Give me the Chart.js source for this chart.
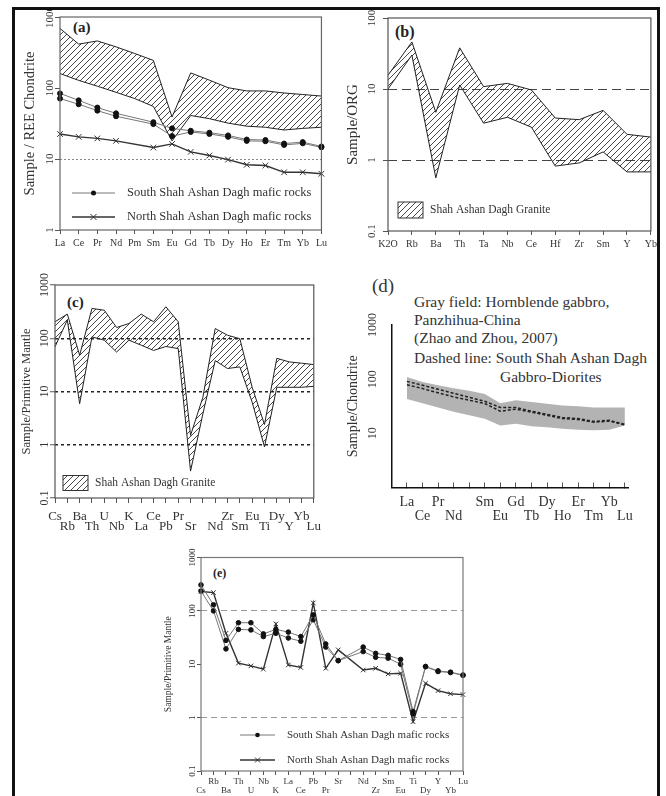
<!DOCTYPE html>
<html>
<head>
<meta charset="utf-8">
<script src="https://cdn.jsdelivr.net/npm/chart.js@4.4.1/dist/chart.umd.min.js"></script>
<style>
body { margin: 0; background: #fff; }
#page { position: relative; width: 666px; height: 796px; overflow: hidden; background: #fff;
        font-family: "Liberation Serif", "Times New Roman", serif; }
#page canvas { position: absolute; }
.border { position: absolute; left: 12px; top: 7px; width: 642px; height: 786px;
          border: 3px solid #111; border-bottom: 1px solid #888; pointer-events: none; z-index: 5; }
.txt { position: absolute; white-space: nowrap; color: #333; line-height: 1; }
.tag { font-weight: bold; color: #222; }
</style>
</head>
<body>
<div id="page">
  <div class="border"></div>
  <div class="txt tag" style="left:73px;top:20px;font-size:15px">(a)</div>
  <div class="txt tag" style="left:395px;top:24px;font-size:16px">(b)</div>
  <div class="txt tag" style="left:67px;top:295px;font-size:15px">(c)</div>
  <div class="txt" style="left:372px;top:276px;font-size:19px">(d)</div>
  <div class="txt tag" style="left:213px;top:567px;font-size:12px">(e)</div>
  <div class="txt" style="left:414px;top:294px;font-size:15.5px">Gray field: Hornblende gabbro,</div>
  <div class="txt" style="left:414px;top:312px;font-size:15.5px">Panzhihua-China</div>
  <div class="txt" style="left:414px;top:330px;font-size:15.5px">(Zhao and Zhou, 2007)</div>
  <div class="txt" style="left:414px;top:350px;font-size:15.5px">Dashed line: South Shah Ashan Dagh</div>
  <div class="txt" style="left:500px;top:369px;font-size:15.5px">Gabbro-Diorites</div>
</div>
<script>
const SERIF = '"Liberation Serif", "Times New Roman", serif';

// (a) REE chondrite
const aLabels = ['La','Ce','Pr','Nd','Pm','Sm','Eu','Gd','Tb','Dy','Ho','Er','Tm','Yb','Lu'];
const aFieldTop = [690, 415, 460, 380, 306, 245, 39, 163, 129, 101, 91, 91, 85, 81, 77];
const aFieldLow = [160, 128, 106, 87, 71, 55, 18, 41, 37, 32, 29, 28, 25.6, 27, 28];
const aSouth1 = [84, 67, 53, 44, null, 33, 27, 25, 23.5, 21.5, 18.8, 18.5, 16.5, 17.3, 15];
const aSouth2 = [71, 59, 48, 40, null, 31, 21, 24, 22.5, 20.5, 18, 17.8, 15.8, 16.6, 14.6];
const aNorth = [22.5, 20.5, 19.5, 18, null, 14.5, 16.3, 12.6, 11.2, 9.8, 8.3, 8.1, 6.5, 6.5, 6.2];
const aTicks = [1, 10, 100, 1000];

// (b) ORG
const bLabels = ['K2O','Rb','Ba','Th','Ta','Nb','Ce','Hf','Zr','Sm','Y','Yb'];
const bTop = [15.6, 46, 4.7, 38, 10.8, 12, 9.7, 3.9, 3.7, 5.0, 2.3, 2.1];
const bLow = [10, 30, 0.56, 11.4, 3.3, 4.0, 2.9, 0.82, 0.91, 1.3, 0.68, 0.68];
const bTicks = [0.1, 1, 10, 100];

// (c) primitive mantle, granite
const cLabels = ['Cs','Rb','Ba','Th','U','Nb','K','La','Ce','Pb','Pr','Sr','','Nd','Zr','Sm','Eu','Ti','Dy','Y','Yb','Lu'];
const cTop = [204, 284, 48, 363, 336, 159, 189, 284, 204, 390, 204, 1.5, 7.8, 152, 114, 98, 12, 2.4, 42, 36, 34, 32];
const cLow = [69, 219, 5.9, 106, 92, 55, 92, 74, 59, 70, 64, 0.32, 3.8, 38, 27, 29, 6.3, 0.91, 12, 12, 12, 12.5];
const cTicks = [0.1, 1, 10, 100, 1000];

// (d) chondrite, gray field + dashed lines
const dLabels = ['La','Ce','Pr','Nd','','Sm','Eu','Gd','Tb','Dy','Ho','Er','Tm','Yb','Lu'];
const dRow = [0,1,0,1,0,0,1,0,1,0,1,0,1,0,1];
const dFieldTop = [110, 89, 77, 68, 61, 53, 36, 41, 38, 35, 32.5, 31.6, 30, 30, 30];
const dFieldLow = [43, 36, 30, 25, 21.5, 18.6, 14, 15, 13.5, 12.9, 12.1, 11.7, 11.4, 11.7, 14];
const dLine1 = [91, 77, 65, 55, null, 39, 30, 30, 25.6, 22.4, 19.6, 18.7, 16.6, 17.4, 14.7];
const dLine2 = [79, 67, 56, 47, null, 35.6, 25.6, 28, 24.6, 21.5, 18.7, 18, 16, 16.8, 14.3];
const dTicks = [10, 100, 1000];

// (e) primitive mantle, mafic rocks
const eLabels = cLabels;
const eSouth1 = [307, 130, 28, 60, 60, 37, 45, 40, 33, 84, 24, 11.7, null, 21, 16, 14.7, 12.3, 1.3, 9.1, 7.5, 7.1, 6.3];
const eSouth2 = [236, 100, 19.4, 45, 44, 33, 38, 31, 27, 68, 21, 11.7, null, 17.3, 13.5, 13, 10, 1.17, 9, 7.3, 7, 6.2];
const eNorth = [230, 220, 38, 10.5, 9.3, 8.1, 57, 9.7, 8.7, 141, 8.4, 18.6, null, 7.8, 8.4, 6.6, 6.8, 0.84, 4.4, 3.2, 2.8, 2.7];
const eTicks = [0.1, 1, 10, 100, 1000];

// hatch pattern for the granite / field areas
const pc = document.createElement('canvas');
pc.width = 6; pc.height = 6;
const pg = pc.getContext('2d');
pg.strokeStyle = '#333'; pg.lineWidth = 0.9;
pg.beginPath();
pg.moveTo(0, 6); pg.lineTo(6, 0);
pg.moveTo(-1, 1); pg.lineTo(1, -1);
pg.moveTo(5, 7); pg.lineTo(7, 5);
pg.stroke();
const hatch = pg.createPattern(pc, 'repeat');

Chart.register({
  id: 'frame',
  afterDraw(chart, args, o) {
    if (!o || !o.color) return;
    const { ctx, chartArea: a } = chart;
    ctx.save();
    ctx.strokeStyle = o.color; ctx.lineWidth = o.width || 1;
    ctx.strokeRect(a.left, a.top, a.right - a.left, a.bottom - a.top);
    ctx.restore();
  }
});

// legend drawn inside the plot, page coords shifted by the canvas offset
function keyPlugin(items, box) {
  return {
    id: 'key',
    afterDraw(chart) {
      const ctx = chart.ctx;
      items.forEach(it => {
        const x = it.x - box[0], y = it.y - box[1];
        ctx.save();
        if (it.kind === 'hatch') {
          ctx.fillStyle = hatch;
          ctx.fillRect(x, y - it.h / 2, it.w, it.h);
          ctx.strokeStyle = '#333'; ctx.lineWidth = 1;
          ctx.strokeRect(x, y - it.h / 2, it.w, it.h);
        } else {
          ctx.strokeStyle = it.color; ctx.lineWidth = it.lw;
          ctx.beginPath(); ctx.moveTo(x, y); ctx.lineTo(x + it.len, y); ctx.stroke();
          const mx = x + it.len / 2;
          if (it.kind === 'dot') {
            ctx.fillStyle = '#111';
            ctx.beginPath(); ctx.arc(mx, y, it.r, 0, Math.PI * 2); ctx.fill();
          } else {
            ctx.lineWidth = 1;
            ctx.beginPath();
            ctx.moveTo(mx - it.r, y - it.r); ctx.lineTo(mx + it.r, y + it.r);
            ctx.moveTo(mx - it.r, y + it.r); ctx.lineTo(mx + it.r, y - it.r);
            ctx.stroke();
          }
        }
        ctx.fillStyle = '#333';
        ctx.font = it.fs + 'px ' + SERIF;
        ctx.textBaseline = 'middle';
        ctx.fillText(it.text, it.tx - box[0], y);
        ctx.restore();
      });
    }
  };
}

function place(box) {
  const c = document.createElement('canvas');
  c.width = box[2] - box[0]; c.height = box[3] - box[1];
  c.style.left = box[0] + 'px'; c.style.top = box[1] + 'px';
  document.getElementById('page').appendChild(c);
  return c;
}

function yAxis(p) {
  return {
    type: 'logarithmic', min: p.min, max: p.max,
    afterBuildTicks: s => { s.ticks = p.ticks.map(v => ({ value: v })); },
    afterFit: s => { s.width = p.w; },
    ticks: { callback: v => String(v), minRotation: 90, maxRotation: 90, crossAlign: 'center',
             padding: p.pad, color: '#333', font: { family: SERIF, size: p.fs } },
    grid: { color: c => (c.tick && p.lines.indexOf(c.tick.value) >= 0) ? p.lineColor : 'rgba(0,0,0,0)',
            lineWidth: p.lineWidth || 1, drawTicks: p.tl > 0, tickLength: p.tl, tickColor: '#555', tickWidth: 1 },
    border: { display: !!p.axis, color: '#111', width: 1.5, dash: p.dash || [] },
    title: { display: true, text: p.title, color: '#333', font: { family: SERIF, size: p.tfs },
             padding: { top: p.tp, bottom: 0 } }
  };
}

function xAxis(p) {
  const ax = {
    type: p.type || 'category', offset: false,
    afterFit: s => { s.height = p.h; },
    ticks: { autoSkip: false, maxRotation: 0, minRotation: 0, padding: p.pad, color: '#333',
             font: { family: SERIF, size: p.fs, lineHeight: p.lh || 1.2 }, callback: p.fmt },
    grid: { drawOnChartArea: false, tickLength: p.tl, tickColor: '#555', color: '#555' },
    border: { display: !!p.axis, color: '#111', width: 1.5 }
  };
  if (p.min !== undefined) { ax.min = p.min; ax.max = p.max; }
  if (p.tickVals) ax.afterBuildTicks = s => { s.ticks = p.tickVals.map(v => ({ value: v })); };
  return ax;
}

function options(box, plot, x, y, frame) {
  return {
    responsive: false, animation: false, devicePixelRatio: 1,
    layout: { padding: { left: 0, top: plot[1] - box[1], right: box[2] - plot[2], bottom: 0 } },
    plugins: { legend: { display: false }, tooltip: { enabled: false }, frame: frame || {} },
    elements: { line: { tension: 0 }, point: { radius: 0 } },
    scales: { x: x, y: y }
  };
}

function south(data, r) {
  return { data: data, borderColor: '#777', borderWidth: 1, pointRadius: r, pointBackgroundColor: '#111',
           pointBorderColor: '#111', spanGaps: true, fill: false };
}
function north(data, r) {
  return { data: data, borderColor: '#333', borderWidth: 1.4, pointStyle: 'crossRot', pointRadius: r,
           pointBorderColor: '#333', pointBorderWidth: 1, spanGaps: true, fill: false };
}
function fieldLow(data) {
  return { data: data, borderColor: '#222', borderWidth: 1, fill: false };
}
function fieldTop(data) {
  return { data: data, borderColor: '#222', borderWidth: 1, fill: '-1', backgroundColor: hatch };
}

// ---- (a)
const boxA = [15, 8, 330, 256], plotA = [60, 17, 321.5, 230];
new Chart(place(boxA), {
  type: 'line',
  data: { labels: aLabels, datasets: [
    south(aSouth1, 2.5), south(aSouth2, 2.5), north(aNorth, 4),
    fieldLow(aFieldLow), fieldTop(aFieldTop)
  ] },
  options: options(boxA, plotA,
    xAxis({ h: boxA[3] - plotA[3], pad: 3, fs: 10, tl: 4, fmt: (v, i) => aLabels[i] }),
    yAxis({ min: 1, max: 1000, ticks: aTicks, w: plotA[0] - boxA[0], pad: -6, fs: 11, tl: 5,
            lines: [10], lineColor: '#888', dash: [2, 2], title: 'Sample / REE Chondrite', tfs: 14.5, tp: 6.3 }),
    { color: '#666', width: 1.2 }),
  plugins: [keyPlugin([
    { kind: 'dot', x: 72, y: 193, len: 43, color: '#777', lw: 1, r: 2.5, tx: 127, fs: 12.5, text: 'South Shah Ashan Dagh mafic rocks' },
    { kind: 'cross', x: 72, y: 217, len: 43, color: '#333', lw: 1.5, r: 3, tx: 127, fs: 12.5, text: 'North Shah Ashan Dagh mafic rocks' }
  ], boxA)]
});

// ---- (b)
const boxB = [340, 8, 660, 256], plotB = [388, 18, 652.5, 231];
new Chart(place(boxB), {
  type: 'line',
  data: { labels: bLabels, datasets: [fieldLow(bLow), fieldTop(bTop)] },
  options: options(boxB, plotB,
    xAxis({ h: boxB[3] - plotB[3], pad: 3, fs: 10, tl: 4, fmt: (v, i) => bLabels[i] }),
    yAxis({ min: 0.1, max: 100, ticks: bTicks, w: plotB[0] - boxB[0], pad: 2.75, fs: 11, tl: 5,
            lines: [1, 10], lineColor: '#444', dash: [9, 5], title: 'Sample/ORG', tfs: 15, tp: 4 }),
    { color: '#555', width: 1.2 }),
  plugins: [keyPlugin([
    { kind: 'hatch', x: 398, y: 210, w: 25, h: 16, tx: 430, fs: 11.5, text: 'Shah Ashan Dagh Granite' }
  ], boxB)]
});

// ---- (c)
const boxC = [15, 270, 330, 540], plotC = [55, 285, 316, 498];
new Chart(place(boxC), {
  type: 'line',
  data: { labels: cLabels, datasets: [fieldLow(cLow), fieldTop(cTop)] },
  options: options(boxC, plotC,
    xAxis({ h: boxC[3] - plotC[3], pad: 9, fs: 13, lh: 0.77, tl: 5,
            fmt: (v, i) => i % 2 === 0 ? [cLabels[i], ''] : ['', cLabels[i]] }),
    yAxis({ min: 0.1, max: 1000, ticks: cTicks, w: plotC[0] - boxC[0], pad: -7, fs: 12, tl: 5,
            lines: [1, 10, 100], lineColor: '#222', lineWidth: 1.5, dash: [3, 3],
            title: 'Sample/Primitive Mantle', tfs: 12.5, tp: 4.5 }),
    { color: '#555', width: 1.2 }),
  plugins: [keyPlugin([
    { kind: 'hatch', x: 63, y: 483, w: 25, h: 15, tx: 95, fs: 11.5, text: 'Shah Ashan Dagh Granite' }
  ], boxC)]
});

// ---- (d)
const boxD = [340, 300, 650, 530], plotD = [392, 325, 628, 487.5];
const xy = arr => arr.map((v, i) => ({ x: i, y: v }));
new Chart(place(boxD), {
  type: 'line',
  data: { datasets: [
    { data: xy(dLine1), borderColor: '#222', borderWidth: 1.5, borderDash: [3, 2], spanGaps: true, fill: false },
    { data: xy(dLine2), borderColor: '#222', borderWidth: 1.5, borderDash: [3, 2], spanGaps: true, fill: false },
    { data: xy(dFieldLow), borderWidth: 0, borderColor: 'rgba(0,0,0,0)', fill: false },
    { data: xy(dFieldTop), borderWidth: 0, borderColor: 'rgba(0,0,0,0)', fill: '-1', backgroundColor: '#b3b3b3' }
  ] },
  options: options(boxD, plotD,
    xAxis({ type: 'linear', min: -0.96, max: 14.2, tickVals: dLabels.map((s, i) => i),
            h: boxD[3] - plotD[3], pad: 13, fs: 14, lh: 1, tl: -5, axis: true,
            fmt: v => dRow[v] === 0 ? [dLabels[v], ''] : ['', dLabels[v]] }),
    yAxis({ min: 1, max: 1000, ticks: dTicks, w: plotD[0] - boxD[0], pad: 7, fs: 12, tl: 0, axis: true,
            lines: [], lineColor: 'rgba(0,0,0,0)', title: 'Sample/Chondrite', tfs: 14, tp: 4.6 }),
    null)
});

// ---- (e)
const boxE = [150, 545, 480, 796], plotE = [201, 557.5, 463, 771];
new Chart(place(boxE), {
  type: 'line',
  data: { labels: eLabels, datasets: [south(eSouth1, 2.3), south(eSouth2, 2.3), north(eNorth, 3.2)] },
  options: options(boxE, plotE,
    xAxis({ h: boxE[3] - plotE[3], pad: 2.5, fs: 9, lh: 1, tl: 4,
            fmt: (v, i) => i % 2 === 0 ? ['', eLabels[i]] : [eLabels[i], ''] }),
    yAxis({ min: 0.1, max: 1000, ticks: eTicks, w: plotE[0] - boxE[0], pad: -5, fs: 9, tl: 4,
            lines: [1, 100], lineColor: '#999', dash: [6, 4], title: 'Sample/Primitive Mantle', tfs: 9.5, tp: 12.3 }),
    { color: '#777', width: 1.2 }),
  plugins: [keyPlugin([
    { kind: 'dot', x: 240, y: 735, len: 35, color: '#777', lw: 1, r: 2.3, tx: 287, fs: 11, text: 'South Shah Ashan Dagh mafic rocks' },
    { kind: 'cross', x: 240, y: 760, len: 35, color: '#333', lw: 1.5, r: 2.5, tx: 287, fs: 11, text: 'North Shah Ashan Dagh mafic rocks' }
  ], boxE)]
});
</script>
</body>
</html>
